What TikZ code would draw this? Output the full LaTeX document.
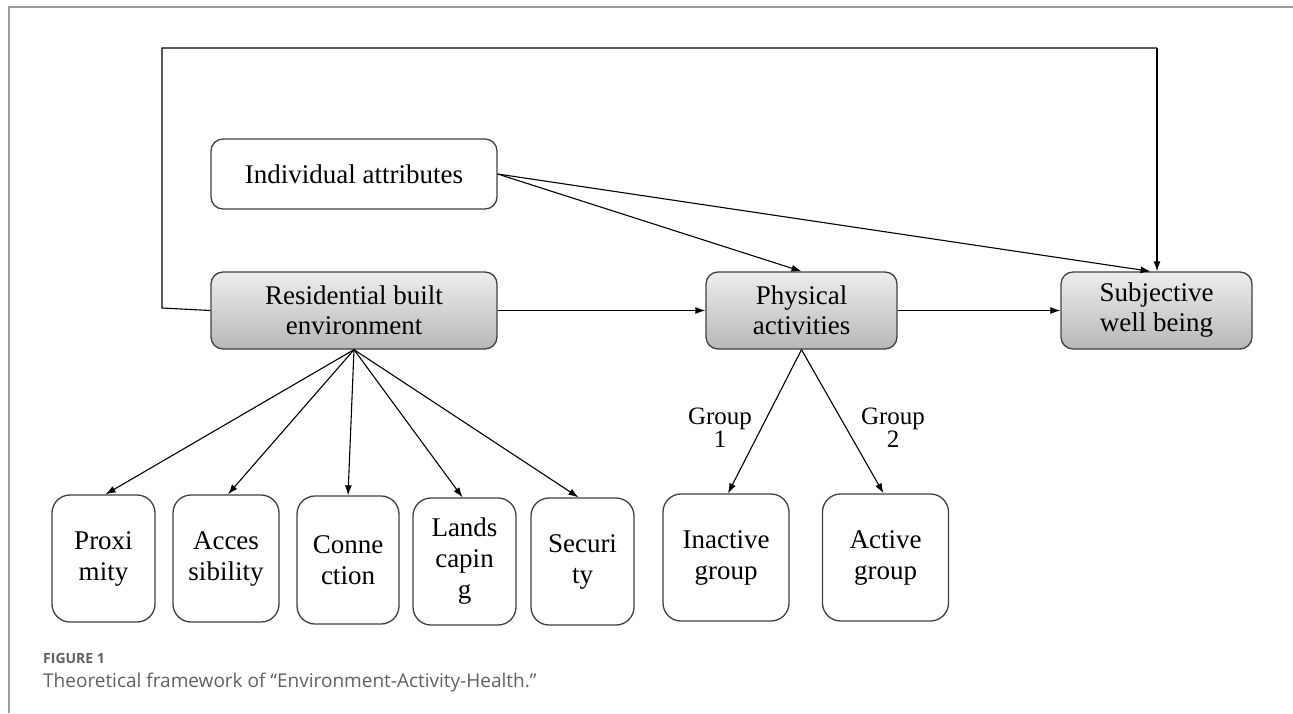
\documentclass[tikz,border=0pt]{standalone}
\usepackage{fontspec}
\setmainfont{Liberation Serif}
\newfontfamily\capfont{Open Sans}
\usetikzlibrary{arrows.meta}
\definecolor{capgray}{HTML}{606060}
\begin{document}
\begin{tikzpicture}[x=1pt,y=-1pt,
  box/.style={draw=black!75, line width=1.3pt, rounded corners=12pt, align=center,
    font=\fontsize{27}{30}\selectfont, inner sep=0pt},
  gbox/.style={box, top color=black!7, bottom color=black!28},
  sbox/.style={box, rounded corners=18pt, font=\fontsize{27}{31}\selectfont},
  arr/.style={-{Latex[length=10pt,width=7pt]}, line width=1.1pt},
  ln/.style={line width=1.1pt},
  glabel/.style={align=center, font=\fontsize{25}{20}\selectfont, inner sep=0pt}]
\useasboundingbox (0,0) rectangle (1293,713);
\draw[black!40, line width=1.5pt] (9,713) -- (9,7) -- (1293,7);

% main boxes
\node[box, minimum width=286pt, minimum height=70pt] (ia) at (354,174) {Individual attributes};
\node[gbox, minimum width=286pt, minimum height=77pt] (rbe) at (354,310.5) {Residential built\\environment};
\node[gbox, minimum width=191pt, minimum height=77pt] (pa) at (801.5,310.5) {Physical\\activities};
\node[gbox, minimum width=191pt, minimum height=77pt] (swb) at (1156.5,310.5) {Subjective\\well being};

% small boxes
\node[sbox, minimum width=103pt, minimum height=127pt] (prox) at (103.5,558.5) {Proxi\\mity};
\node[sbox, minimum width=106pt, minimum height=127pt] (acc) at (226,558.5) {Acces\\sibility};
\node[sbox, minimum width=102pt, minimum height=128pt] (con) at (348,560) {Conne\\ction};
\node[sbox, minimum width=103pt, minimum height=127pt] (land) at (464.5,561.5) {Lands\\capin\\g};
\node[sbox, minimum width=103pt, minimum height=127pt] (sec) at (582.5,561.5) {Securi\\ty};
\node[sbox, minimum width=126pt, minimum height=127pt] (inact) at (726,557.5) {Inactive\\group};
\node[sbox, minimum width=126pt, minimum height=127pt] (act) at (885.5,557.5) {Active\\group};

% labels
\node[glabel] (g1) at (720,428) {Group\\1};
\node[glabel] (g2) at (893,428) {Group\\2};

% feedback loop
\coordinate (lb) at (162,308);
\coordinate (tl) at (162,48);
\coordinate (tr) at (1157,48);
\draw[ln] (rbe.west) -- (lb) -- (tl) -- (tr);
\draw[arr] (tr) -- (swb.north -| tr);

% arrows
\draw[arr] (ia.east) -- (pa.north);
\draw[arr] (ia.east) -- ([xshift=-6pt]swb.north);
\draw[arr] (rbe.east) -- (pa.west);
\draw[arr] (pa.east) -- (swb.west);

\draw[arr] (rbe.south) -- ([xshift=2pt]prox.north);
\draw[arr] (rbe.south) -- ([xshift=2pt]acc.north);
\draw[arr] (rbe.south) -- (con.north);
\draw[arr] (rbe.south) -- ([xshift=-2pt]land.north);
\draw[arr] (rbe.south) -- ([xshift=-4pt]sec.north);

\draw[arr] (pa.south) -- ([xshift=2pt]inact.north);
\draw[arr] (pa.south) -- ([xshift=-2pt]act.north);

% caption
\node[anchor=base west, inner sep=0pt, text=capgray, font=\capfont\bfseries\fontsize{14}{16}\selectfont] (fig) at (43,663) {FIGURE 1};
\node[anchor=base west, inner sep=0pt, text=capgray, font=\capfont\fontsize{19}{21}\selectfont] (cap) at (43,687) {Theoretical framework of “Environment-Activity-Health.”};
\end{tikzpicture}
\end{document}
